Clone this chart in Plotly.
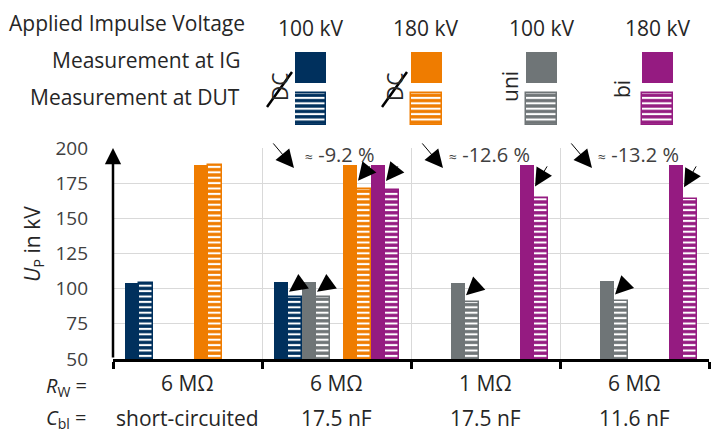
import plotly.graph_objects as go

# ---------------- data ----------------
rw_labels = ["6 MΩ", "6 MΩ", "1 MΩ", "6 MΩ"]
cbl_labels = ["short-circuited", "17.5 nF", "17.5 nF", "11.6 nF"]

navy_ig = [104.0, 104.5, None, None]
navy_dut = [104.0, 94.2, None, None]
gray_ig = [None, 104.5, 103.8, 105.2]
gray_dut = [None, 94.2, 90.7, 90.9]
orange_ig = [187.6, 188.0, None, None]
orange_dut = [187.6, 170.6, None, None]
purple_ig = [None, 188.0, 188.0, 188.0]
purple_dut = [None, 170.4, 164.3, 163.4]

drop_labels = [None, "-9.2 %", "-12.6 %", "-13.2 %"]

voltage_labels = ["100 kV", "180 kV", "100 kV", "180 kV"]
type_labels = ["DC", "DC", "uni", "bi"]
y_ticks = [50, 75, 100, 125, 150, 175, 200]

# ---------------- style ----------------
NAVY = "#00305d"
ORANGE = "#ef7c00"
GRAY = "#6f7577"
PURPLE = "#951b81"
FONT = "'Open Sans', Lato, sans-serif"
TXT = "#262626"
FS = 21

# pixel helpers (plot area: x 113..709, y 148..359 ; paper top at y=0)
PL, PR, PB = 113, 709, 359
PW = PR - PL


def px(x):
    return (x - PL) / PW


def py(y):
    return (PB - y) / PB


GROUP_PX = 149.0
W = 14 / GROUP_PX
slot_px = [-55.5, -41.5, -27.5, -13.5, 13.5, 27.5, 41.5, 55.5]
slots = [s / GROUP_PX for s in slot_px]

series = [
    (navy_ig, NAVY, False), (navy_dut, NAVY, True),
    (gray_ig, GRAY, False), (gray_dut, GRAY, True),
    (orange_ig, ORANGE, False), (orange_dut, ORANGE, True),
    (purple_ig, PURPLE, False), (purple_dut, PURPLE, True),
]


def hatch(col):
    return dict(shape="-", fgcolor="white", bgcolor=col, size=5.4,
                solidity=0.38, fillmode="replace")


fig = go.Figure()

for i, (vals, col, hatched) in enumerate(series):
    xs = [g + 0.5 + slots[i] for g in range(len(vals))]
    marker = dict(color=col, line=dict(width=0))
    if hatched:
        marker = dict(color=col, line=dict(color=col, width=1.5), pattern=hatch(col))
    fig.add_trace(go.Bar(x=xs, y=vals, width=W, marker=marker,
                         showlegend=False, hoverinfo="skip"))

# legend swatches as bars on their own axes
legend_colors = [NAVY, ORANGE, GRAY, PURPLE]
for i, col in enumerate(legend_colors):
    fig.add_trace(go.Bar(x=[i], y=[31], base=[42], width=0.268,
                         marker=dict(color=col, line=dict(width=0)),
                         xaxis="x2", yaxis="y2", showlegend=False, hoverinfo="skip"))
    fig.add_trace(go.Bar(x=[i], y=[32], base=[0], width=0.268,
                         marker=dict(color=col, line=dict(color=col, width=1.5),
                                     pattern=hatch(col)),
                         xaxis="x2", yaxis="y2", showlegend=False, hoverinfo="skip"))

ann = []
shapes = []


def text(x, y, s, xref="paper", yref="paper", xanchor="center", size=FS,
         color=TXT, angle=0):
    ann.append(dict(x=x, y=y, xref=xref, yref=yref, xanchor=xanchor,
                    yanchor="middle", showarrow=False, text=s, textangle=angle,
                    borderpad=0, font=dict(size=size, color=color, family=FONT)))


def arrow(x, y, ax, ay, size, width):
    ann.append(dict(x=x, y=y, ax=ax, ay=ay, xref="x", yref="y", axref="x", ayref="y",
                    showarrow=True, arrowhead=2, arrowsize=size, arrowwidth=width,
                    arrowcolor="black", text=""))


# small arrows IG -> DUT
pairs = [(navy_ig, navy_dut, 1), (gray_ig, gray_dut, 3),
         (orange_ig, orange_dut, 5), (purple_ig, purple_dut, 7)]
for ig, dut, si in pairs:
    for g in range(4):
        if ig[g] is None or dut[g] is None or ig[g] - dut[g] < 3:
            continue
        cx = g + 0.5 + slots[si]
        arrow(cx - W / 2 + 1 / GROUP_PX, dut[g] + 0.35 * (ig[g] - dut[g]),
              cx + W / 2, ig[g], 3.6, 1)

# big arrows + percent labels
for g, lab in enumerate(drop_labels):
    if lab is None:
        continue
    arrow(g + 32 / GROUP_PX, 185.8, g + 10 / GROUP_PX, 204.3, 3.6, 1)
    text(g + 78 / GROUP_PX, 195.2, "<span style='font-size:14px'>≈</span> " + lab,
         xref="x", yref="y", color="#404040", size=20)

# y axis arrow
arrow(0, 200, 0, 50, 1.3, 2.5)

# y axis title
text(px(33), py(244), "<i>U</i><sub>P</sub> in kV", angle=-90, size=21)

# bottom category rows
text(px(88), py(386), "<i>R</i><sub>W</sub> =", xanchor="right", size=20)
text(px(88), py(419), "<i>C</i><sub>bl</sub> =", xanchor="right", size=20)
for g in range(4):
    text(g + 0.5, py(383), rw_labels[g], xref="x")
    text(g + 0.5, py(418), cbl_labels[g], xref="x")

# legend texts
text(px(8), py(23), "Applied Impulse Voltage", xanchor="left")
text(px(241), py(60), "Measurement at IG", xanchor="right")
text(px(241), py(97), "Measurement at DUT", xanchor="right")
sw_centers = [310.5, 426, 541.5, 657.5]
type_pos = [(280, 87), (395, 87), (510, 87), (622, 89)]
for i in range(4):
    text(px(sw_centers[i]), py(28), voltage_labels[i])
    text(px(type_pos[i][0]), py(type_pos[i][1]), type_labels[i], angle=-90)
    if type_labels[i] == "DC":
        x0 = type_pos[i][0] - 13
        shapes.append(dict(type="line", xref="paper", yref="paper",
                           x0=px(x0), y0=py(107), x1=px(x0 + 25), y1=py(72),
                           line=dict(color="black", width=2.5)))

fig.update_layout(
    width=712, height=432,
    margin=dict(l=PL, r=712 - PR, t=0, b=432 - PB, pad=0, autoexpand=False),
    paper_bgcolor="white", plot_bgcolor="white",
    barmode="overlay", bargap=0,
    showlegend=False,
    annotations=ann, shapes=shapes,
    xaxis=dict(range=[0, 4], domain=[0, 1], tickvals=[0, 1, 2, 3, 4], showticklabels=False,
               showgrid=True, gridcolor="#d9d9d9", gridwidth=1, zeroline=False,
               showline=True, linecolor="black", linewidth=2.5,
               ticks="outside", ticklen=7, tickwidth=2.5, tickcolor="black"),
    yaxis=dict(range=[50, 200], domain=[0, (PB - 148) / PB], tickvals=y_ticks,
               showgrid=True, gridcolor="#d9d9d9", gridwidth=1, zeroline=False,
               showline=False, ticks="", ticklabelstandoff=24,
               tickfont=dict(size=19, color="#404040", family=FONT)),
    xaxis2=dict(domain=[px(295), px(673)], range=[-0.134, 3.134], anchor="y2",
                visible=False, fixedrange=True),
    yaxis2=dict(domain=[py(125), py(52)], range=[0, 73], anchor="x2",
                visible=False, fixedrange=True),
)

fig.write_html("out.html", config={"displayModeBar": False},
               post_script="document.body.style.margin='0';document.body.style.padding='0';")
